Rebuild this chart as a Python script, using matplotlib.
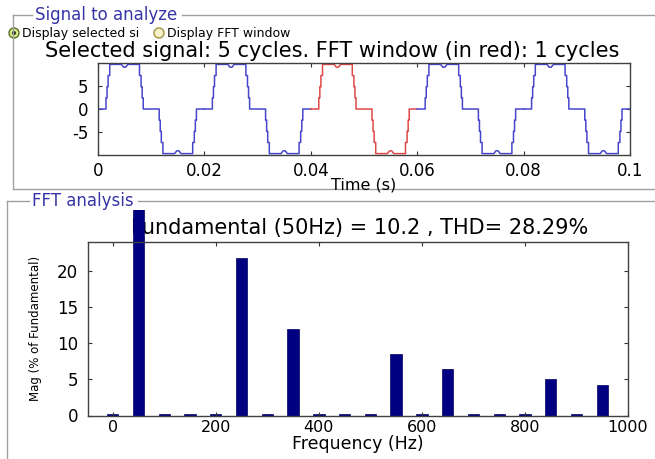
import numpy as np
import matplotlib.pyplot as plt
from matplotlib.patches import Rectangle, Circle

plt.rcParams['font.family'] = 'DejaVu Sans'

# --- signal: one positive half cycle of the staircase, the negative half mirrors it
period = 0.02
n_cycles = 5
fft_cycle = 2  # cycle analysed (drawn in red), 0.04 - 0.06 s
half_t = [0.0, 0.0015, 0.0015, 0.0017, 0.0017, 0.0019, 0.0019, 0.0022, 0.0022,
          0.0044, 0.0048, 0.0052, 0.0056, 0.0078, 0.0078, 0.0081, 0.0081,
          0.0083, 0.0083, 0.0085, 0.0085]
half_v = [0, 0, 2.4, 2.4, 4.8, 4.8, 7.2, 7.2, 9.6,
          9.6, 9.0, 9.0, 9.6, 9.6, 7.2, 7.2, 4.8,
          4.8, 2.4, 2.4, 0]

# --- FFT result, % of fundamental
freq = [0, 50, 100, 150, 200, 250, 300, 350, 400, 450, 500,
        550, 600, 650, 700, 750, 800, 850, 900, 950]
mag = [0.15, 100, 0.15, 0.15, 0.15, 21.8, 0.15, 11.9, 0.15, 0.15, 0.15,
       8.5, 0.15, 6.4, 0.15, 0.15, 0.15, 5.05, 0.15, 4.2]
fft_title = 'Fundamental (50Hz) = 10.2 , THD= 28.29%'

W, H = 655, 459
fig = plt.figure(figsize=(W / 100, H / 100), dpi=100)

# background axes in pixel units for the panels / gui bits
bg = fig.add_axes([0, 0, 1, 1], zorder=-1)
bg.set_xlim(0, W)
bg.set_ylim(H, 0)
bg.axis('off')

frame = '#a0a0a0'
title_col = '#3535a8'
# "Signal to analyze" panel
bg.plot([13, 32], [15, 15], color=frame, lw=1)
bg.plot([182, W], [15, 15], color=frame, lw=1)
bg.plot([13, 13], [15, 189], color=frame, lw=1)
bg.plot([13, W], [189, 189], color=frame, lw=1)
bg.text(35, 15, 'Signal to analyze', color=title_col, fontsize=12, va='center')
# "FFT analysis" panel
bg.plot([7, 29], [201, 201], color=frame, lw=1)
bg.plot([138, W], [201, 201], color=frame, lw=1)
bg.plot([7, 7], [201, H], color=frame, lw=1)
bg.text(32, 201, 'FFT analysis', color=title_col, fontsize=12, va='center')

# radio buttons
bg.add_patch(Circle((14, 33), 5, facecolor='#d6e890', edgecolor='#5a7020', lw=1))
bg.add_patch(Circle((14, 33), 2, facecolor='#203010', edgecolor='none'))
bg.text(22, 33, 'Display selected si', fontsize=9, va='center')
bg.add_patch(Circle((159, 33), 5, facecolor='#f4f0c8', edgecolor='#a09040', lw=1))
bg.text(167, 33, 'Display FFT window', fontsize=9, va='center')
bg.text(45, 51, 'Selected signal: 5 cycles. FFT window (in red): 1 cycles',
        fontsize=15, va='center')

# FFT title sits under the clipped fundamental bar
bg.text(360, 228, fft_title, fontsize=15, ha='center', va='center')

# --- time signal
ax1 = fig.add_axes([98 / W, 1 - 155 / H, (630 - 98) / W, (155 - 63) / H])
for k in range(n_cycles):
    t0 = k * period
    ct = np.concatenate([np.array(half_t) + t0, np.array(half_t) + t0 + period / 2, [t0 + period]])
    cv = np.concatenate([half_v, -np.array(half_v), [0]])
    col = '#e04848' if k == fft_cycle else '#4646cc'
    ax1.plot(ct, cv, color=col, lw=1.1)
ax1.set_xlim(0, 0.1)
ax1.set_ylim(-9.9, 9.9)
ax1.set_xticks([0, 0.02, 0.04, 0.06, 0.08, 0.1])
ax1.set_xticklabels(['0', '0.02', '0.04', '0.06', '0.08', '0.1'])
ax1.set_yticks([-5, 0, 5])
ax1.set_yticklabels(['-5', '0', '5'])
ax1.set_xlabel('Time (s)', fontsize=11.5, labelpad=-2)

# --- FFT bars
ax2 = fig.add_axes([88 / W, 1 - 415.5 / H, (628 - 88) / W, (415.5 - 242) / H])
bars = ax2.bar(freq, mag, width=22, color='#000080', edgecolor='#000060', lw=0.5)
clip = Rectangle((0, 210), W, H - 210, transform=bg.transData)
for b in bars:
    b.set_clip_box(fig.bbox)
    b.set_clip_path(clip)
ax2.set_xlim(-48, 998)
ax2.set_ylim(0, 24)
ax2.set_xticks([0, 200, 400, 600, 800, 1000])
ax2.set_yticks([0, 5, 10, 15, 20])
ax2.set_xlabel('Frequency (Hz)', fontsize=12.5, labelpad=0)
ax2.set_ylabel('Mag (% of Fundamental)', fontsize=8.5, labelpad=11)

for ax in (ax1, ax2):
    ax.tick_params(direction='in', top=True, right=True, length=3, width=0.8,
                   colors='#333333', labelcolor='black', labelsize=12)
    for s in ax.spines.values():
        s.set_color('#404040')
        s.set_linewidth(1)
ax1.tick_params(axis='x', pad=5)
ax1.tick_params(axis='y', pad=7)
ax2.tick_params(axis='x', pad=3, labelsize=11.5)
ax2.tick_params(axis='y', pad=7)

fig.savefig('out.png', dpi=100)
